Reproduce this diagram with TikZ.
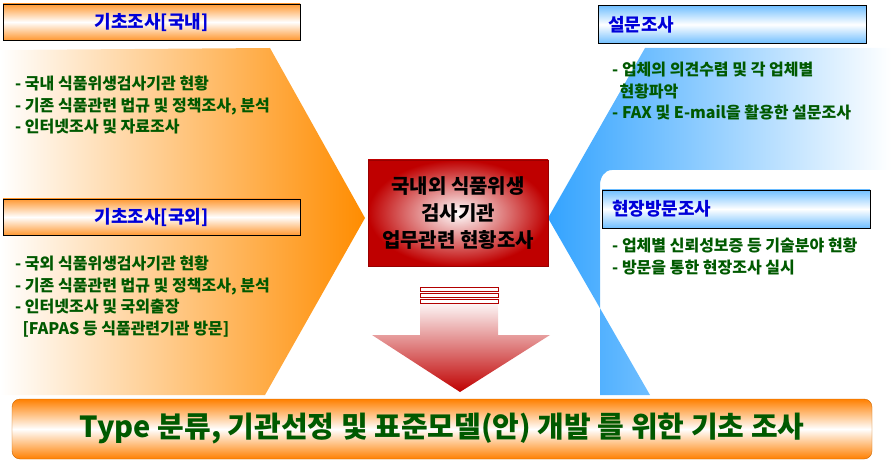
\documentclass[tikz,border=0pt]{standalone}
\usepackage{fontspec}
\setmainfont{Noto Sans CJK KR}
\usetikzlibrary{positioning}
\begin{document}
\begin{tikzpicture}[x=1pt,y=-1pt]

	% Colours
	\colorlet{leftcolor}{orange!90!yellow}
	\colorlet{rightcolor}{blue!45!cyan!80!white}
	\colorlet{listcolor}{green!35!black}
	\colorlet{headcolor}{blue!85!black}

	% Styles
	\tikzset{
		titlebox/.style={draw=black, top color=orange!80, bottom color=orange!80, middle color=white, minimum height=36pt, font=\bfseries\fontsize{18}{20}\selectfont, text=headcolor},
		surveybox/.style={draw=black, top color=rightcolor!70, bottom color=rightcolor!70, middle color=white, minimum height=38pt, font=\bfseries\fontsize{18}{20}\selectfont, text=headcolor, text width=248pt, align=left, inner sep=10pt},
		listtext/.style={anchor=north west, align=left, text=listcolor, font=\bfseries\fontsize{16}{21.5}\selectfont, inner sep=0pt}
	}

	\useasboundingbox (0,0) rectangle (891,465);

	% Big arrows
	\shade[left color=white, right color=leftcolor] (0,50) -- (270,48) -- (365,218) -- (265,395) -- (0,395) -- cycle;
	\shade[left color=rightcolor, right color=white] (548,218) -- (645,48) -- (891,48) -- (891,170) -- (612,170) to[out=180,in=90] (600,185) -- (600,395) -- (650,395) -- cycle;

	% Title boxes
	\node[titlebox, minimum width=297pt] (domestic) at (151.5,22) {기초조사[국내]};
	\node[titlebox, minimum width=297pt] (foreign) at (151.5,217) {기초조사[국외]};
	\node[surveybox] (survey) at (732,24.5) {설문조사};
	\node[surveybox] (visit) at (736,209) {현장방문조사};

	% Lists
	\node[listtext] (domlist) at (15,76) {- 국내 식품위생검사기관 현황\\- 기존 식품관련 법규 및 정책조사, 분석\\- 인터넷조사 및 자료조사};
	\node[listtext] (forlist) at (15,256) {- 국외 식품위생검사기관 현황\\- 기존 식품관련 법규 및 정책조사, 분석\\- 인터넷조사 및 국외출장\\\ \ [FAPAS 등 식품관련기관 방문]};
	\node[listtext] (survlist) at (612,62) {- 업체의 의견수렴 및 각 업체별\\\ \ 현황파악\\- FAX 및 E-mail을 활용한 설문조사};
	\node[listtext] (visitlist) at (612,238) {- 업체별 신뢰성보증 등 기술분야 현황\\- 방문을 통한 현장조사 실시};

	% Centre box
	\node[draw=red!60!black, inner sep=0pt, minimum width=180pt, minimum height=106pt, inner color=white, outer color=red!75!black, align=center, font=\bfseries\fontsize{20}{27}\selectfont] (centre) at (458,213) {국내외 식품위생\\검사기관\\업무관련 현황조사};

	% Down arrow
	\shade[top color=white, bottom color=red!75!black] (420,300) -- (498,300) -- (498,335) -- (550,335) -- (460,392) -- (372,335) -- (420,335) -- cycle;
	\foreach \y in {287,293,299} {
		\draw[red!70!black, fill=white] (420,\y) rectangle (498,\y+4);
	}

	% Bottom banner
	\node[draw=orange!80!black, rounded corners=8pt, minimum width=860pt, minimum height=60pt, top color=orange, bottom color=orange, middle color=white, text=listcolor, font=\bfseries\fontsize{29}{31}\selectfont] (goal) at (442,429) {Type 분류, 기관선정 및 표준모델(안) 개발 를 위한 기초 조사};

\end{tikzpicture}
\end{document}
